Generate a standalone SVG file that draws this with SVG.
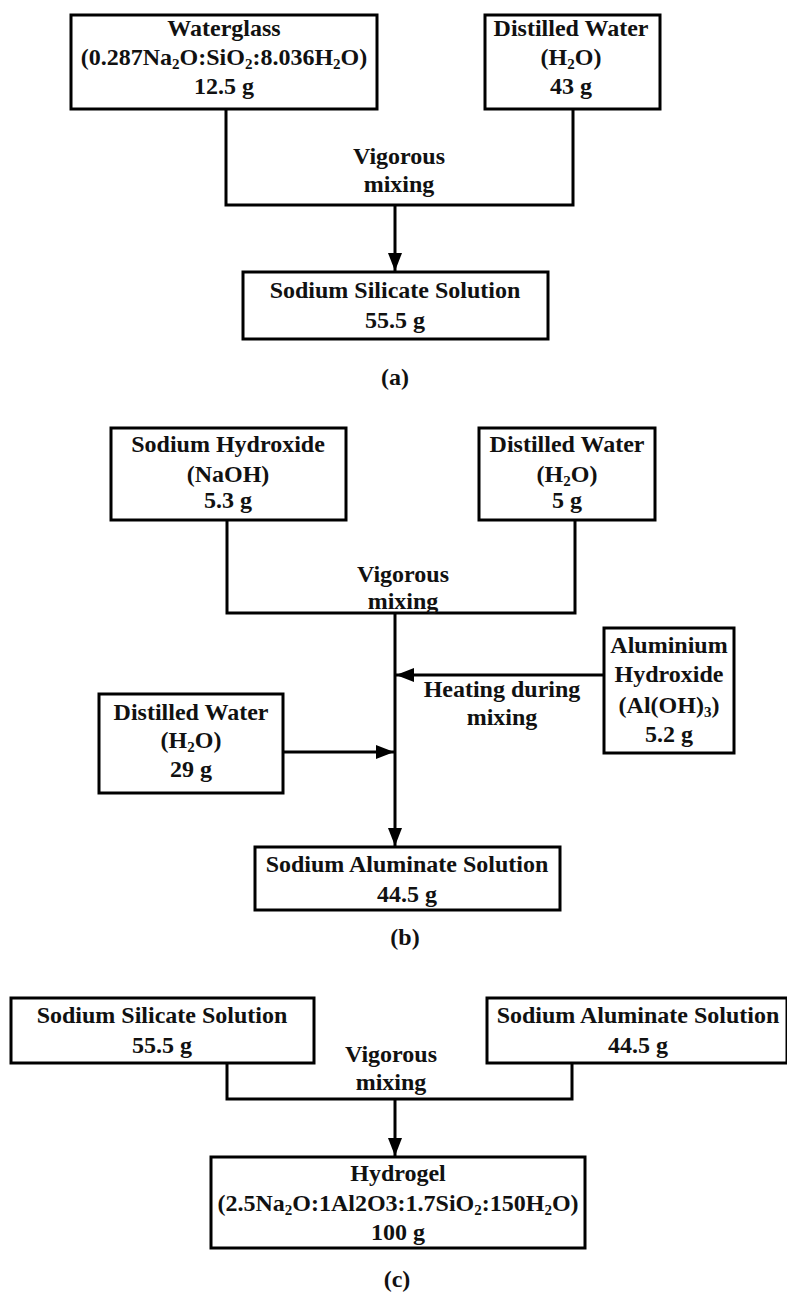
<svg xmlns="http://www.w3.org/2000/svg" width="787" height="1294" viewBox="0 0 787 1294">
<style>
.box{fill:#fff;stroke:#000;stroke-width:3}
.ln{fill:none;stroke:#000;stroke-width:3}
.t{font-family:"Liberation Serif","Times New Roman",serif;font-weight:bold;font-size:24px;fill:#111;text-anchor:middle}
.s{font-size:15px}
</style>
<defs>
<marker id="ah" viewBox="0 0 18 14" refX="18" refY="7" markerWidth="18" markerHeight="14" markerUnits="userSpaceOnUse" orient="auto">
<path d="M0,0 L18,7 L0,14 Z" fill="#000"/>
</marker>
</defs>
<rect width="787" height="1294" fill="#fff"/>

<g id="connectors">
<!-- panel a -->
<polyline class="ln" points="226,109 226,205 573,205 573,109"/>
<line class="ln" x1="395" y1="205" x2="395" y2="271" marker-end="url(#ah)"/>
<!-- panel b -->
<polyline class="ln" points="227,520 227,613 575,613 575,520"/>
<line class="ln" x1="395" y1="613" x2="395" y2="846" marker-end="url(#ah)"/>
<line class="ln" x1="604" y1="675" x2="396" y2="675" marker-end="url(#ah)"/>
<line class="ln" x1="283" y1="752" x2="394" y2="752" marker-end="url(#ah)"/>
<!-- panel c -->
<polyline class="ln" points="227,1063 227,1099 572,1099 572,1063"/>
<line class="ln" x1="395" y1="1099" x2="395" y2="1156" marker-end="url(#ah)"/>
</g>

<!-- Panel (a) -->
<g id="a-waterglass">
<rect class="box" x="71" y="15" width="306" height="94"/>
<text class="t" x="224" y="36">Waterglass</text>
<text class="t" x="224" y="65">(0.287Na<tspan class="s" dy="4">2</tspan><tspan dy="-4">O:SiO</tspan><tspan class="s" dy="4">2</tspan><tspan dy="-4">:8.036H</tspan><tspan class="s" dy="4">2</tspan><tspan dy="-4">O)</tspan></text>
<text class="t" x="224" y="94">12.5 g</text>
</g>
<g id="a-water">
<rect class="box" x="485" y="15" width="175" height="94"/>
<text class="t" x="571" y="36">Distilled Water</text>
<text class="t" x="571" y="65">(H<tspan class="s" dy="4">2</tspan><tspan dy="-4">O)</tspan></text>
<text class="t" x="571" y="94">43 g</text>
</g>
<g id="a-label">
<text class="t" x="399" y="164">Vigorous</text>
<text class="t" x="399" y="192">mixing</text>
</g>
<g id="a-silicate">
<rect class="box" x="243" y="272" width="305" height="67"/>
<text class="t" x="395" y="298">Sodium Silicate Solution</text>
<text class="t" x="395" y="328">55.5 g</text>
</g>
<text class="t" x="395" y="385">(a)</text>

<!-- Panel (b) -->
<g id="b-naoh">
<rect class="box" x="111" y="428" width="235" height="92"/>
<text class="t" x="228" y="452">Sodium Hydroxide</text>
<text class="t" x="228" y="482">(NaOH)</text>
<text class="t" x="228" y="508">5.3 g</text>
</g>
<g id="b-water1">
<rect class="box" x="479" y="428" width="176" height="92"/>
<text class="t" x="567" y="452">Distilled Water</text>
<text class="t" x="567" y="482">(H<tspan class="s" dy="4">2</tspan><tspan dy="-4">O)</tspan></text>
<text class="t" x="567" y="508">5 g</text>
</g>
<g id="b-label1">
<text class="t" x="403" y="582">Vigorous</text>
<text class="t" x="403" y="609">mixing</text>
</g>
<g id="b-aloh">
<rect class="box" x="604" y="628" width="130" height="125"/>
<text class="t" x="669" y="653">Aluminium</text>
<text class="t" x="669" y="682">Hydroxide</text>
<text class="t" x="669" y="713">(Al(OH)<tspan class="s" dy="4">3</tspan><tspan dy="-4">)</tspan></text>
<text class="t" x="669" y="742">5.2 g</text>
</g>
<g id="b-label2">
<text class="t" x="502" y="697">Heating during</text>
<text class="t" x="502" y="725">mixing</text>
</g>
<g id="b-water2">
<rect class="box" x="99" y="694" width="184" height="99"/>
<text class="t" x="191" y="720">Distilled Water</text>
<text class="t" x="191" y="748">(H<tspan class="s" dy="4">2</tspan><tspan dy="-4">O)</tspan></text>
<text class="t" x="191" y="777">29 g</text>
</g>
<g id="b-aluminate">
<rect class="box" x="255" y="847" width="305" height="63"/>
<text class="t" x="407" y="872">Sodium Aluminate Solution</text>
<text class="t" x="407" y="902">44.5 g</text>
</g>
<text class="t" x="405" y="945">(b)</text>

<!-- Panel (c) -->
<g id="c-silicate">
<rect class="box" x="11" y="998" width="303" height="65"/>
<text class="t" x="162" y="1023">Sodium Silicate Solution</text>
<text class="t" x="162" y="1053">55.5 g</text>
</g>
<g id="c-aluminate">
<rect class="box" x="487" y="998" width="300" height="65"/>
<text class="t" x="638" y="1023">Sodium Aluminate Solution</text>
<text class="t" x="638" y="1053">44.5 g</text>
</g>
<g id="c-label">
<text class="t" x="391" y="1062">Vigorous</text>
<text class="t" x="391" y="1090">mixing</text>
</g>
<g id="c-hydrogel">
<rect class="box" x="211" y="1157" width="374" height="91"/>
<text class="t" x="398" y="1181">Hydrogel</text>
<text class="t" x="398" y="1211">(2.5Na<tspan class="s" dy="4">2</tspan><tspan dy="-4">O:1Al2O3:1.7SiO</tspan><tspan class="s" dy="4">2</tspan><tspan dy="-4">:150H</tspan><tspan class="s" dy="4">2</tspan><tspan dy="-4">O)</tspan></text>
<text class="t" x="398" y="1240">100 g</text>
</g>
<text class="t" x="397" y="1287">(c)</text>
</svg>
